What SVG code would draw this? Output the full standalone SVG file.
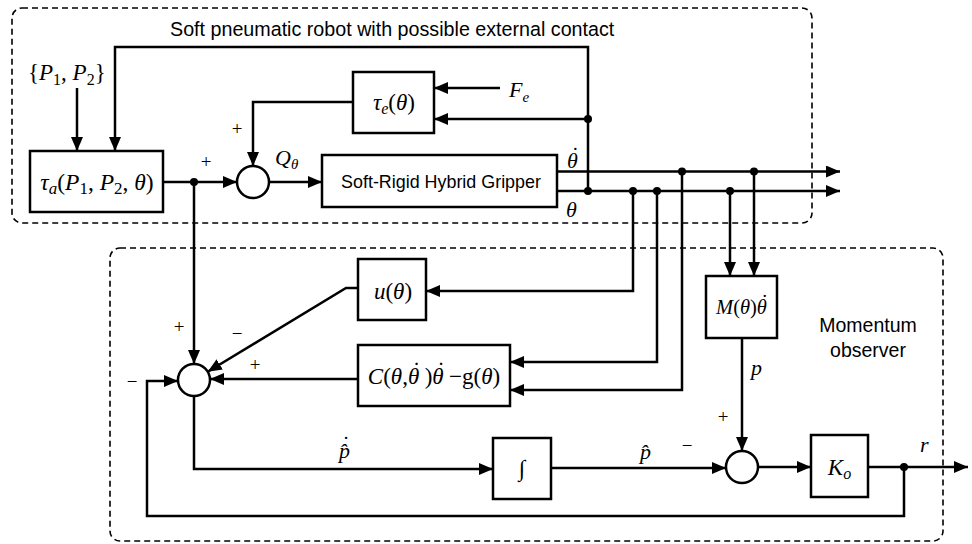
<svg xmlns="http://www.w3.org/2000/svg" width="972" height="544" viewBox="0 0 972 544">
<style>
.ln{fill:none;stroke:#000;stroke-width:2.5}
.bx{fill:#fff;stroke:#000;stroke-width:2.5}
.ds{fill:none;stroke:#000;stroke-width:1.6;stroke-dasharray:6 4}
.dot{fill:#000}
.sans{font-family:"Liberation Sans",Arial,sans-serif;fill:#000}
.m{font-family:"Liberation Serif","Times New Roman",serif;fill:#000}
.i{font-style:italic}
.sg{font-family:"Liberation Serif","Times New Roman",serif;font-size:19px;fill:#000}
</style>
<defs>
<marker id="ah" viewBox="0 0 14 12" refX="14" refY="6" markerWidth="14" markerHeight="12" markerUnits="userSpaceOnUse" orient="auto">
<path d="M0,0 L14,6 L0,12 Z" fill="#000"/>
</marker>
</defs>
<rect width="972" height="544" fill="#fff"/>
<g id="robot-frame">
<rect class="ds" x="12" y="8" width="800" height="215" rx="10"/>
<text class="sans" x="170" y="36" font-size="19.7">Soft pneumatic robot with possible external contact</text>
</g>
<g id="observer-frame">
<rect class="ds" x="110" y="248" width="833" height="293" rx="10"/>
<text class="sans" x="868" y="332" font-size="19.5" text-anchor="middle">Momentum</text>
<text class="sans" x="868" y="357" font-size="19.5" text-anchor="middle">observer</text>
</g>
<g id="connectors">
<path class="ln" d="M163,182 H237" marker-end="url(#ah)"/>
<path class="ln" d="M269,182 H322" marker-end="url(#ah)"/>
<path class="ln" d="M353,102 H253 V166" marker-end="url(#ah)"/>
<path class="ln" d="M500,88 H434" marker-end="url(#ah)"/>
<path class="ln" d="M588,191 V47 H115 V151" marker-end="url(#ah)"/>
<path class="ln" d="M588,119 H434" marker-end="url(#ah)"/>
<path class="ln" d="M77,88 V151" marker-end="url(#ah)"/>
<path class="ln" d="M557,171.5 H840" marker-end="url(#ah)"/>
<path class="ln" d="M557,191 H840" marker-end="url(#ah)"/>
<path class="ln" d="M633,191 V291 H426" marker-end="url(#ah)"/>
<path class="ln" d="M657,191 V362 H510" marker-end="url(#ah)"/>
<path class="ln" d="M682,171.5 V390 H510" marker-end="url(#ah)"/>
<path class="ln" d="M730,191 V276" marker-end="url(#ah)"/>
<path class="ln" d="M754,171.5 V276" marker-end="url(#ah)"/>
<path class="ln" d="M194,182 V364" marker-end="url(#ah)"/>
<path class="ln" d="M358,288 H346 L207.7,371.7" marker-end="url(#ah)"/>
<path class="ln" d="M358,379 H210" marker-end="url(#ah)"/>
<path class="ln" d="M904,467 V516 H147 V381 H178" marker-end="url(#ah)"/>
<path class="ln" d="M194,396 V469 H493" marker-end="url(#ah)"/>
<path class="ln" d="M551,468 H726" marker-end="url(#ah)"/>
<path class="ln" d="M742,338 V451" marker-end="url(#ah)"/>
<path class="ln" d="M758,467 H811" marker-end="url(#ah)"/>
<path class="ln" d="M868,467 H968" marker-end="url(#ah)"/>
<circle class="dot" cx="194" cy="182" r="4"/>
<circle class="dot" cx="588" cy="119" r="4"/>
<circle class="dot" cx="588" cy="191" r="4"/>
<circle class="dot" cx="633" cy="191" r="4"/>
<circle class="dot" cx="657" cy="191" r="4"/>
<circle class="dot" cx="682" cy="171.5" r="4"/>
<circle class="dot" cx="730" cy="191" r="4"/>
<circle class="dot" cx="754" cy="171.5" r="4"/>
<circle class="dot" cx="904" cy="467" r="4"/>
<text class="m i" x="275" y="165" font-size="22">Q<tspan font-size="15" dy="4">θ</tspan></text>
<text class="m i" x="567" y="168" font-size="22">θ<tspan dx="-7.5" dy="-6">˙</tspan></text>
<text class="m i" x="566" y="217" font-size="22">θ</text>
<text class="m i" x="509" y="97" font-size="22">F<tspan font-size="15" dy="5">e</tspan></text>
<text class="m" x="28" y="80" font-size="23">{<tspan class="i">P</tspan><tspan font-size="16" dy="5">1</tspan><tspan dy="-5">, </tspan><tspan class="i">P</tspan><tspan font-size="16" dy="5">2</tspan><tspan dy="-5">}</tspan></text>
<text class="m i" x="339" y="458" font-size="22">p&#x302;</text>
<text class="m i" x="341" y="451" font-size="22">˙</text>
<text class="m i" x="640" y="459" font-size="22">p&#x302;</text>
<text class="m i" x="751" y="375" font-size="22">p</text>
<text class="m i" x="920" y="452" font-size="22">r</text>
<text class="sg" x="206" y="168" text-anchor="middle">+</text>
<text class="sg" x="237" y="135" text-anchor="middle">+</text>
<text class="sg" x="179" y="333" text-anchor="middle">+</text>
<text class="sg" x="237" y="340" text-anchor="middle">−</text>
<text class="sg" x="255" y="371" text-anchor="middle">+</text>
<text class="sg" x="132" y="388" text-anchor="middle">−</text>
<text class="sg" x="687" y="452" text-anchor="middle">−</text>
<text class="sg" x="723" y="423" text-anchor="middle">+</text>
</g>
<g id="tau-a">
<rect class="bx" x="30" y="151" width="133" height="61"/>
<text class="m" x="97" y="190" font-size="23.5" text-anchor="middle"><tspan class="i">τ</tspan><tspan class="i" font-size="17" dy="4">a</tspan><tspan dy="-4">(</tspan><tspan class="i">P</tspan><tspan font-size="17" dy="4">1</tspan><tspan dy="-4">, </tspan><tspan class="i">P</tspan><tspan font-size="17" dy="4">2</tspan><tspan dy="-4">, </tspan><tspan class="i">θ</tspan>)</text>
</g>
<g id="sum1">
<circle class="bx" cx="253" cy="182" r="16"/>
</g>
<g id="tau-e">
<rect class="bx" x="353" y="72" width="81" height="61"/>
<text class="m" x="394" y="110" font-size="23" text-anchor="middle"><tspan class="i">τ</tspan><tspan class="i" font-size="16" dy="4">e</tspan><tspan dy="-4">(</tspan><tspan class="i">θ</tspan>)</text>
</g>
<g id="gripper">
<rect class="bx" x="322" y="155" width="235" height="52"/>
<text class="sans" x="441" y="188" font-size="17.9" text-anchor="middle">Soft-Rigid Hybrid Gripper</text>
</g>
<g id="u">
<rect class="bx" x="358" y="259" width="68" height="61"/>
<text class="m" x="393" y="299" font-size="23" text-anchor="middle"><tspan class="i">u</tspan>(<tspan class="i">θ</tspan>)</text>
</g>
<g id="c-g">
<rect class="bx" x="358" y="345" width="152" height="61"/>
<text class="m" x="434" y="384" font-size="23" text-anchor="middle"><tspan class="i">C</tspan>(<tspan class="i">θ</tspan>,<tspan class="i">θ</tspan><tspan class="i" dx="-8" dy="-6">˙</tspan><tspan dy="6"> )</tspan><tspan class="i">θ</tspan><tspan class="i" dx="-8" dy="-6">˙</tspan><tspan dy="6"> −g(</tspan><tspan class="i">θ</tspan>)</text>
</g>
<g id="m">
<rect class="bx" x="706" y="276" width="71" height="62"/>
<text class="m" x="741.5" y="314" font-size="20.5" text-anchor="middle"><tspan class="i">M</tspan>(<tspan class="i">θ</tspan>)<tspan class="i">θ</tspan><tspan class="i" dx="-7" dy="-5">˙</tspan></text>
</g>
<g id="sum2">
<circle class="bx" cx="194" cy="380" r="16"/>
</g>
<g id="int">
<rect class="bx" x="493" y="438" width="58" height="61"/>
<text class="m" x="522" y="476" font-size="23" text-anchor="middle">∫</text>
</g>
<g id="sum3">
<circle class="bx" cx="742" cy="467" r="16"/>
</g>
<g id="ko">
<rect class="bx" x="811" y="435" width="57" height="62"/>
<text class="m i" x="839.5" y="475" font-size="23" text-anchor="middle">K<tspan font-size="16" dy="4">o</tspan></text>
</g>
</svg>
